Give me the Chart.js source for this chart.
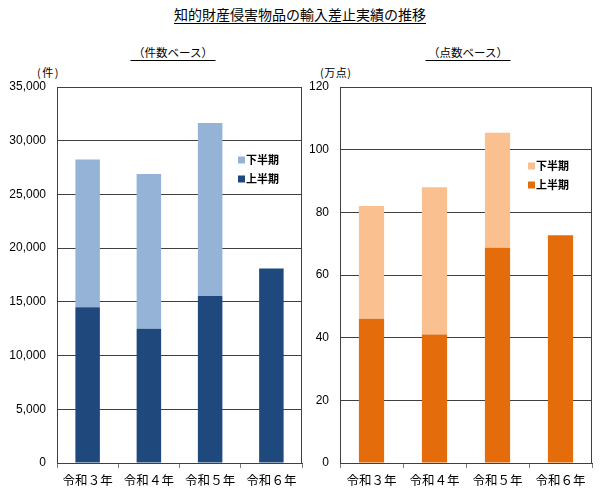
<!DOCTYPE html>
<html>
<head>
<meta charset="utf-8">
<script src="https://cdn.jsdelivr.net/npm/chart.js@4/dist/chart.umd.min.js"></script>
<style>
  html, body { margin:0; padding:0; background:#fff; }
  #wrap { position:relative; width:600px; height:496px; overflow:hidden; font-family:'Noto Sans CJK JP', sans-serif; color:#000; }
  .t { position:absolute; white-space:nowrap; }
  canvas { position:absolute; }
</style>
</head>
<body>
<div id="wrap">
  <div class="t" id="title" style="left:0;width:600px;top:4px;text-align:center;font-size:14px;"><span style="text-decoration:underline;text-underline-offset:3px;">知的財産侵害物品の輸入差止実績の推移</span></div>
  <div class="t" style="left:73px;width:200px;top:44px;text-align:center;font-size:11.5px;"><span style="text-decoration:underline;text-underline-offset:3px;">&nbsp;（件数ベース）&nbsp;</span></div>
  <div class="t" style="left:368px;width:200px;top:44px;text-align:center;font-size:11.5px;"><span style="text-decoration:underline;text-underline-offset:3px;">&nbsp;（点数ベース）&nbsp;</span></div>
  <div class="t" style="left:37px;top:64px;font-size:11px;letter-spacing:1.5px;">(件)</div>
  <div class="t" style="left:320px;top:64px;font-size:11px;letter-spacing:0.5px;">(万点)</div>
  <canvas id="c1" width="305" height="436" style="left:0;top:60px;"></canvas>
  <canvas id="c2" width="295" height="436" style="left:305px;top:60px;"></canvas>
</div>
<script>
const categories = ['令和３年', '令和４年', '令和５年', '令和６年'];
const seriesLabels = ['上半期', '下半期'];
const casesFirstHalf = [14500, 12500, 15550, 18100];
const casesSecondHalf = [13750, 14400, 16100, null];
const pointsFirstHalf = [46, 41, 68.7, 72.7];
const pointsSecondHalf = [36, 47, 36.7, null];
const casesTicks = { min: 0, max: 35000, step: 5000 };
const pointsTicks = { min: 0, max: 120, step: 20 };

const numFont = "'Liberation Sans', 'Noto Sans CJK JP', sans-serif";
const cjkFont = "'Noto Sans CJK JP', sans-serif";

const framePlugin = {
  id: 'frameLegend',
  afterDraw(chart, args, opts) {
    const { ctx, chartArea: a } = chart;
    ctx.save();
    ctx.strokeStyle = '#404040';
    ctx.lineWidth = 1;
    ctx.strokeRect(Math.round(a.left) + 0.5, Math.round(a.top) + 0.5, Math.round(a.right - a.left) - 1, Math.round(a.bottom - a.top));
    // legend inside plot area
    const ds = chart.data.datasets.slice().reverse();
    let y = a.top + opts.dy;
    ctx.font = 'bold 11px ' + cjkFont;
    ctx.textBaseline = 'middle';
    ds.forEach(d => {
      ctx.fillStyle = d.backgroundColor;
      ctx.fillRect(a.right - opts.dx, y - 3.5, 7, 7);
      ctx.fillStyle = '#000';
      ctx.fillText(d.label, a.right - opts.dx + 8, y);
      y += 19;
    });
    ctx.restore();
  }
};

function makeChart(id, first, second, darkColor, lightColor, tk, yWidth, padRight, legendDx, legendDy) {
  return new Chart(document.getElementById(id), {
    type: 'bar',
    data: {
      labels: categories,
      datasets: [
        { label: seriesLabels[0], data: first, backgroundColor: darkColor, barPercentage: 0.4, categoryPercentage: 1 },
        { label: seriesLabels[1], data: second, backgroundColor: lightColor, barPercentage: 0.4, categoryPercentage: 1 }
      ]
    },
    options: {
      responsive: false,
      animation: false,
      devicePixelRatio: 1,
      layout: { padding: { top: 27, right: padRight, left: 0, bottom: 0 } },
      plugins: {
        legend: { display: false },
        tooltip: { enabled: false },
        frameLegend: { dx: legendDx, dy: legendDy }
      },
      scales: {
        x: {
          stacked: true,
          grid: { display: true, drawOnChartArea: false, drawTicks: true, tickLength: 5, color: '#808080', offset: true },
          border: { display: true, color: '#404040' },
          ticks: { color: '#000', font: { size: 12.5, family: cjkFont }, padding: 5, maxRotation: 0 },
          afterFit(s) { s.height = 33; }
        },
        y: {
          stacked: true,
          min: tk.min, max: tk.max,
          ticks: { stepSize: tk.step, color: '#000', font: { size: 12, family: numFont }, padding: 11,
                   callback: v => v.toLocaleString('en-US') },
          grid: { color: '#404040', drawTicks: false },
          border: { display: true, color: '#404040' },
          afterFit(s) { s.width = yWidth; }
        }
      }
    },
    plugins: [framePlugin]
  });
}

makeChart('c1', casesFirstHalf, casesSecondHalf, '#1F497D', '#95B3D7', casesTicks, 57, 3, 64, 73);
makeChart('c2', pointsFirstHalf, pointsSecondHalf, '#E46C0A', '#FAC090', pointsTicks, 35, 8, 64, 79);
</script>
</body>
</html>
